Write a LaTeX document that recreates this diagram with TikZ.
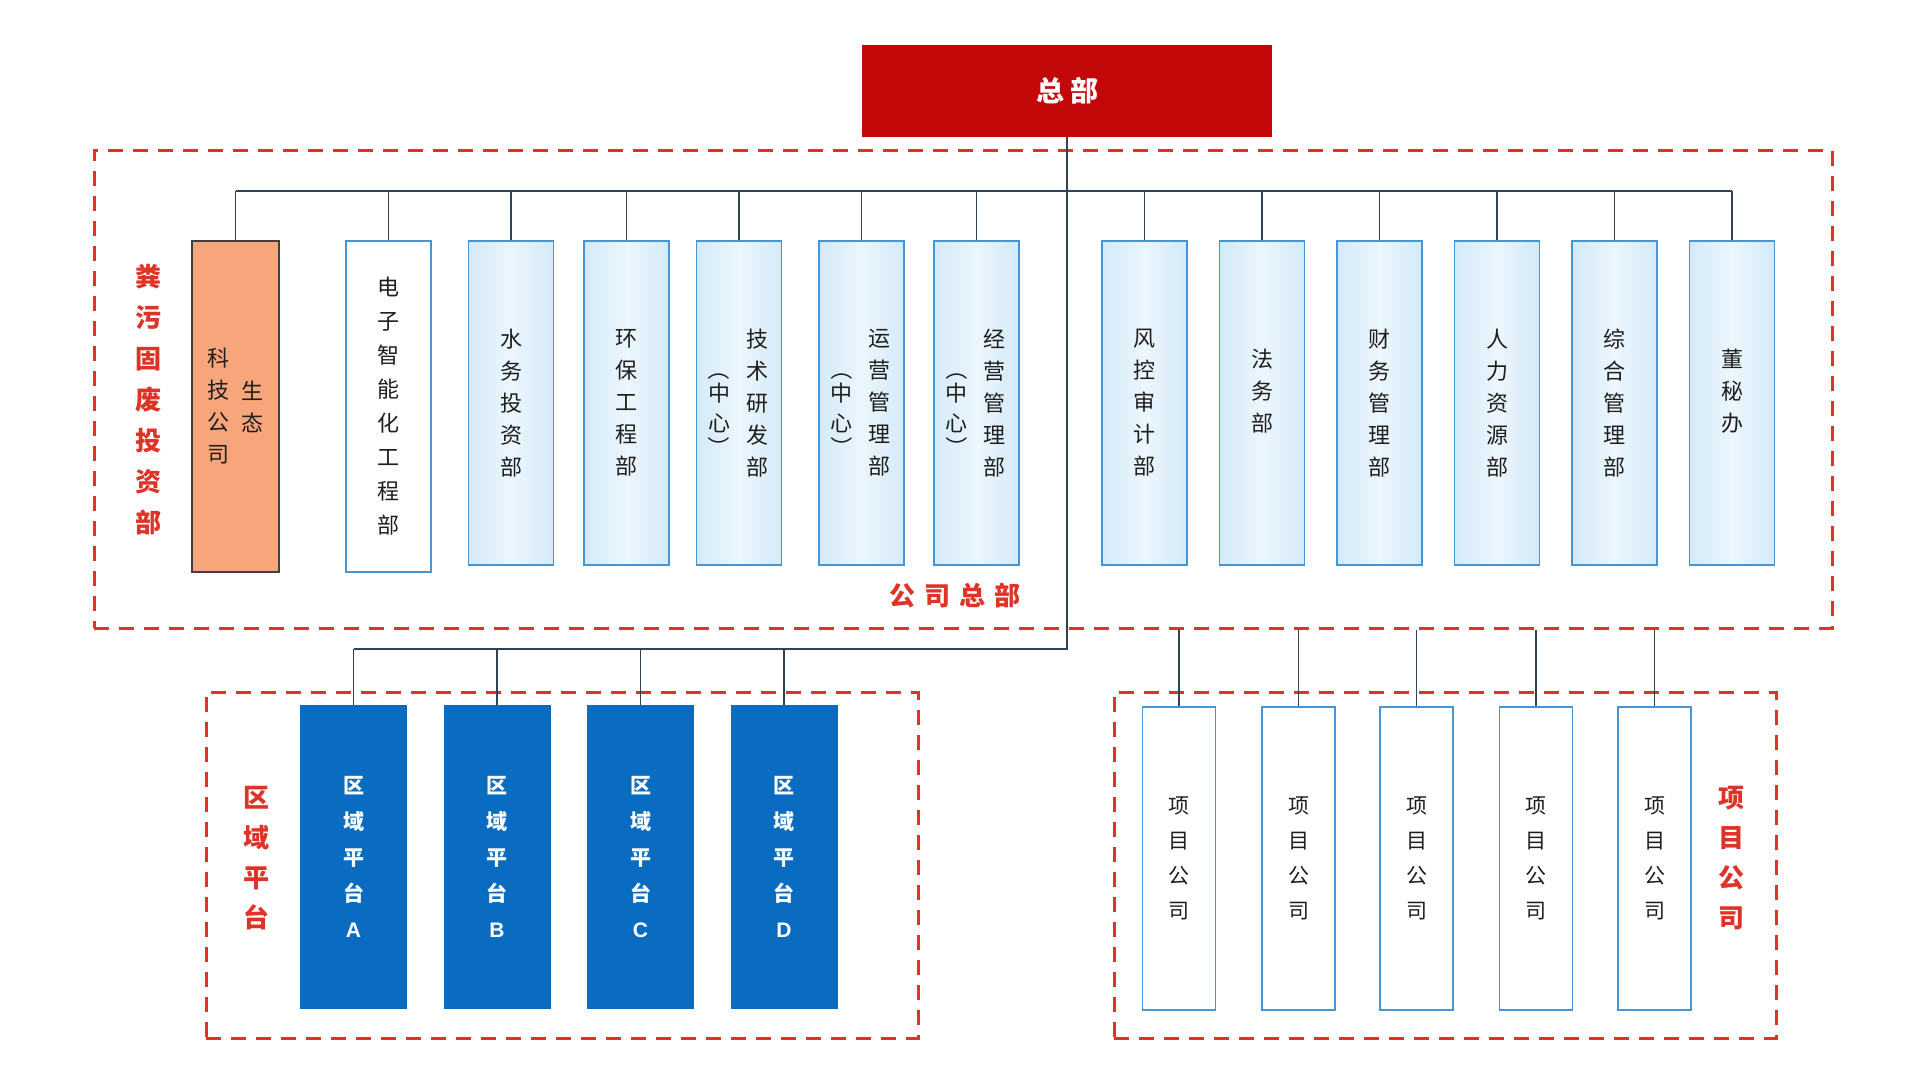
\documentclass[tikz,border=0pt]{standalone}
\usepackage{fontspec}
\newfontfamily\cjk{Noto Sans CJK SC}
\setsansfont{Liberation Sans}
\usetikzlibrary{calc}
\definecolor{hqred}{RGB}{194,8,8}
\definecolor{dashred}{RGB}{222,52,40}
\definecolor{connc}{RGB}{48,66,86}
\definecolor{lbfill}{RGB}{212,234,249}
\definecolor{lbmid}{RGB}{236,246,253}
\definecolor{lbdraw}{RGB}{70,150,212}
\definecolor{orangef}{RGB}{246,166,122}
\definecolor{regblue}{RGB}{10,108,192}
\definecolor{txt}{RGB}{30,30,30}
\begin{document}
\begin{tikzpicture}[x=1pt,y=-1pt,
  dashbox/.style={draw=dashred, line width=3pt, dash pattern=on 15pt off 10pt, rectangle, inner sep=0pt},
  conn/.style={draw=connc, line width=1.5pt},
  deptbox/.style={rectangle, draw=lbdraw, line width=1.6pt, left color=lbfill, right color=lbfill, middle color=lbmid, minimum width=85pt, minimum height=324pt, inner sep=0pt},
  whitebox/.style={rectangle, draw=lbdraw, line width=1.6pt, fill=white, inner sep=0pt},
  orangebox/.style={rectangle, draw=black!75, line width=1.6pt, fill=orangef, inner sep=0pt},
  regbox/.style={rectangle, fill=regblue, minimum width=107pt, minimum height=304pt, inner sep=0pt},
  projbox/.style={whitebox, minimum width=73pt, minimum height=303pt},
  vtxt/.style={align=center, text=txt, inner sep=0pt, font=\cjk\fontsize{22}{32}\selectfont},
  paren/.style={text=txt, inner sep=0pt, font=\cjk\fontsize{22}{32}\selectfont, rotate=-90},
  regtxt/.style={align=center, text=white, inner sep=0pt, font=\cjk\bfseries\fontsize{21}{36}\selectfont},
  projtxt/.style={align=center, text=txt, inner sep=0pt, font=\cjk\fontsize{21}{35}\selectfont},
  redlbl/.style={align=center, text=dashred, inner sep=0pt, font=\cjk\bfseries\fontsize{26}{41}\selectfont}
]
\useasboundingbox[fill=white] (0,0) rectangle (1920,1080);

% dashed frames
\node[dashbox, minimum width=1738pt, minimum height=478pt] (outer) at (963,389) {};
\node[dashbox, minimum width=712pt, minimum height=346pt] (regframe) at (562,865) {};
\node[dashbox, minimum width=662pt, minimum height=346pt] (projframe) at (1445,865) {};

% headquarters
\node[rectangle, fill=hqred, minimum width=410pt, minimum height=92pt, inner sep=0pt,
      text=white, font=\cjk\bfseries\fontsize{28}{30}\selectfont] (hq) at (1067,91) {总\hspace{6pt}部};

% top row departments
\node[orangebox, minimum width=87pt, minimum height=331pt] (d1) at (235.5,406.5) {};
\node[vtxt] at ($(d1.center)+(17,0)$) {生\\态};
\node[vtxt] at ($(d1.center)+(-17,0)$) {科\\技\\公\\司};
\node[whitebox, minimum width=85pt, minimum height=331pt] (d2) at (388.5,406.5) {};
\node[vtxt, font=\cjk\fontsize{22}{34}\selectfont] at (d2.center) {电\\子\\智\\能\\化\\工\\程\\部};
\node[deptbox] (d3) at (511,403) {};
\node[vtxt] at (d3.center) {水\\务\\投\\资\\部};
\node[deptbox] (d4) at (626.5,403) {};
\node[vtxt] at (d4.center) {环\\保\\工\\程\\部};
\node[deptbox] (d5) at (739,403) {};
\node[deptbox] (d6) at (861.5,403) {};
\node[deptbox] (d7) at (976.5,403) {};
\node[vtxt] at ($(d5.center)+(18,0)$) {技\\术\\研\\发\\部};
\node[vtxt] at ($(d6.center)+(18,0)$) {运\\营\\管\\理\\部};
\node[vtxt] at ($(d7.center)+(18,0)$) {经\\营\\管\\理\\部};
\foreach \n in {d5,d6,d7}{
  \node[paren] at ($(\n.center)+(-20,-34)$) {（};
  \node[vtxt] at ($(\n.center)+(-20,-10)$) {中};
  \node[vtxt] at ($(\n.center)+(-20,20)$) {心};
  \node[paren] at ($(\n.center)+(-20,44)$) {）};
}
\node[deptbox] (d8) at (1144.5,403) {};
\node[vtxt] at (d8.center) {风\\控\\审\\计\\部};
\node[deptbox] (d9) at (1262,403) {};
\node[vtxt] at ($(d9.center)+(0,-12)$) {法\\务\\部};
\node[deptbox] (d10) at (1379.5,403) {};
\node[vtxt] at (d10.center) {财\\务\\管\\理\\部};
\node[deptbox] (d11) at (1497,403) {};
\node[vtxt] at (d11.center) {人\\力\\资\\源\\部};
\node[deptbox] (d12) at (1614.5,403) {};
\node[vtxt] at (d12.center) {综\\合\\管\\理\\部};
\node[deptbox] (d13) at (1732,403) {};
\node[vtxt] at ($(d13.center)+(0,-12)$) {董\\秘\\办};

% region platforms
\node[regbox] (r1) at (353.5,857) {};
\node[regtxt] at (r1.center) {区\\域\\平\\台\\\sffamily A};
\node[regbox] (r2) at (497,857) {};
\node[regtxt] at (r2.center) {区\\域\\平\\台\\\sffamily B};
\node[regbox] (r3) at (640.5,857) {};
\node[regtxt] at (r3.center) {区\\域\\平\\台\\\sffamily C};
\node[regbox] (r4) at (784,857) {};
\node[regtxt] at (r4.center) {区\\域\\平\\台\\\sffamily D};

% project companies
\node[projbox] (p1) at (1179,858.5) {};
\node[projbox] (p2) at (1298.5,858.5) {};
\node[projbox] (p3) at (1416.5,858.5) {};
\node[projbox] (p4) at (1536,858.5) {};
\node[projbox] (p5) at (1654.5,858.5) {};
\foreach \i in {1,...,5}{\node[projtxt] at (p\i.center) {项\\目\\公\\司};}

% red labels
\node[redlbl] (lbl1) at (148,400) {粪\\污\\固\\废\\投\\资\\部};
\node[redlbl] (lbl2) at (955,596) {公\hspace{9pt}司\hspace{9pt}总\hspace{9pt}部};
\node[redlbl, font=\cjk\bfseries\fontsize{26}{40}\selectfont] (lbl3) at (256,858) {区\\域\\平\\台};
\node[redlbl, font=\cjk\bfseries\fontsize{26}{40}\selectfont] (lbl4) at (1731,858) {项\\目\\公\\司};

% connectors
\coordinate (bus) at (1067,191);
\coordinate (bus2) at (1067,649);
\draw[conn] (hq.south) -- (bus);
\draw[conn] (d1.north |- bus) -- (d13.north |- bus);
\foreach \i in {1,...,13}{\draw[conn] (d\i.north) -- (d\i.north |- bus);}
\draw[conn] (bus) -- (bus2) -- (r1.north |- bus2);
\foreach \i in {1,...,4}{\draw[conn] (r\i.north) -- (r\i.north |- bus2);}
\foreach \i in {1,...,5}{\draw[conn] (p\i.north) -- (p\i.north |- outer.south);}
\end{tikzpicture}
\end{document}
